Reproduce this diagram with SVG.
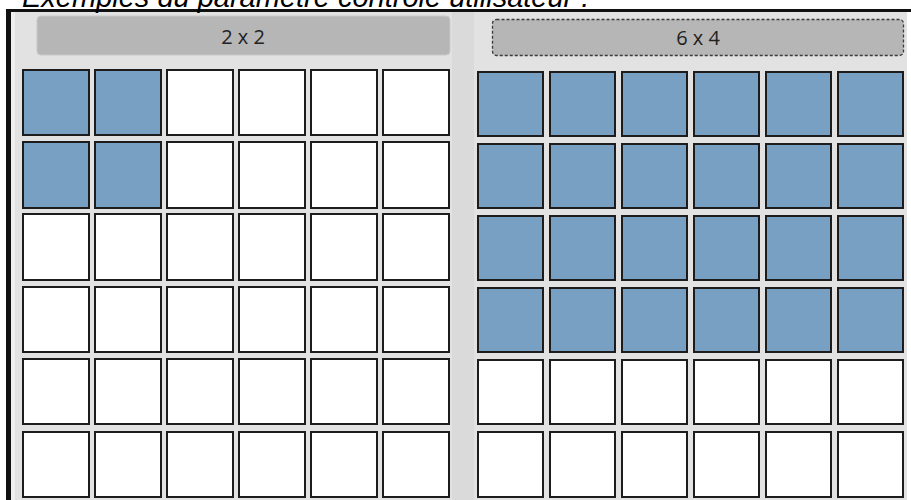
<svg xmlns="http://www.w3.org/2000/svg" width="911" height="500" viewBox="0 0 911 500">
<style>
.cell{stroke:#1c1c1c;stroke-width:2}
.on{fill:#78a0c3}
.off{fill:#ffffff}
.btn{fill:#b6b6b6}
.lbl{font-family:"Open Sans","DejaVu Sans",sans-serif;font-size:20px;fill:#222;text-anchor:middle}
.title{font-family:"Liberation Sans",Arial,sans-serif;font-style:italic;font-size:29px;fill:#000}
</style>
<rect x="0" y="0" width="911" height="500" fill="#ffffff"/>
<g id="frame">
<rect x="6" y="10" width="901" height="490" fill="#e2e2e2"/>
<rect x="11" y="12" width="4" height="488" fill="#efefef"/>
<rect x="452" y="12" width="22" height="488" fill="#dadada"/>
<rect x="6" y="9" width="905" height="3" fill="#111"/>
<rect x="6" y="9" width="5" height="491" fill="#111"/>
</g>
<g id="title"><text class="title" x="22" y="7">Exemples du paramètre contrôle utilisateur :</text></g>
<g id="button-2x2">
<rect class="btn" x="37" y="16" width="413" height="39" rx="4" stroke="#c8c8c8" stroke-width="1"/>
<text class="lbl" x="243" y="44">2 x 2</text>
</g>
<g id="button-6x4">
<rect class="btn" x="492.5" y="19.5" width="411" height="36" rx="4" stroke="#3a3a3a" stroke-width="1.3" stroke-dasharray="3 2"/>
<text class="lbl" x="698" y="45">6 x 4</text>
</g>
<g id="grid-left">
<g id="L-r1">
<rect class="cell on" x="23" y="70" width="66" height="65"/><rect class="cell on" x="95" y="70" width="66" height="65"/><rect class="cell off" x="167" y="70" width="66" height="65"/><rect class="cell off" x="239" y="70" width="66" height="65"/><rect class="cell off" x="311" y="70" width="66" height="65"/><rect class="cell off" x="383" y="70" width="66" height="65"/>
</g>
<g id="L-r2">
<rect class="cell on" x="23" y="142" width="66" height="66"/><rect class="cell on" x="95" y="142" width="66" height="66"/><rect class="cell off" x="167" y="142" width="66" height="66"/><rect class="cell off" x="239" y="142" width="66" height="66"/><rect class="cell off" x="311" y="142" width="66" height="66"/><rect class="cell off" x="383" y="142" width="66" height="66"/>
</g>
<g id="L-r3">
<rect class="cell off" x="23" y="214" width="66" height="66"/><rect class="cell off" x="95" y="214" width="66" height="66"/><rect class="cell off" x="167" y="214" width="66" height="66"/><rect class="cell off" x="239" y="214" width="66" height="66"/><rect class="cell off" x="311" y="214" width="66" height="66"/><rect class="cell off" x="383" y="214" width="66" height="66"/>
</g>
<g id="L-r4">
<rect class="cell off" x="23" y="287" width="66" height="65"/><rect class="cell off" x="95" y="287" width="66" height="65"/><rect class="cell off" x="167" y="287" width="66" height="65"/><rect class="cell off" x="239" y="287" width="66" height="65"/><rect class="cell off" x="311" y="287" width="66" height="65"/><rect class="cell off" x="383" y="287" width="66" height="65"/>
</g>
<g id="L-r5">
<rect class="cell off" x="23" y="359" width="66" height="65"/><rect class="cell off" x="95" y="359" width="66" height="65"/><rect class="cell off" x="167" y="359" width="66" height="65"/><rect class="cell off" x="239" y="359" width="66" height="65"/><rect class="cell off" x="311" y="359" width="66" height="65"/><rect class="cell off" x="383" y="359" width="66" height="65"/>
</g>
<g id="L-r6">
<rect class="cell off" x="23" y="432" width="66" height="65"/><rect class="cell off" x="95" y="432" width="66" height="65"/><rect class="cell off" x="167" y="432" width="66" height="65"/><rect class="cell off" x="239" y="432" width="66" height="65"/><rect class="cell off" x="311" y="432" width="66" height="65"/><rect class="cell off" x="383" y="432" width="66" height="65"/>
</g>
</g>
<g id="grid-right">
<g id="R-r1">
<rect class="cell on" x="478" y="72" width="65" height="64"/><rect class="cell on" x="550" y="72" width="65" height="64"/><rect class="cell on" x="622" y="72" width="65" height="64"/><rect class="cell on" x="694" y="72" width="65" height="64"/><rect class="cell on" x="766" y="72" width="65" height="64"/><rect class="cell on" x="838" y="72" width="65" height="64"/>
</g>
<g id="R-r2">
<rect class="cell on" x="478" y="144" width="65" height="64"/><rect class="cell on" x="550" y="144" width="65" height="64"/><rect class="cell on" x="622" y="144" width="65" height="64"/><rect class="cell on" x="694" y="144" width="65" height="64"/><rect class="cell on" x="766" y="144" width="65" height="64"/><rect class="cell on" x="838" y="144" width="65" height="64"/>
</g>
<g id="R-r3">
<rect class="cell on" x="478" y="216" width="65" height="64"/><rect class="cell on" x="550" y="216" width="65" height="64"/><rect class="cell on" x="622" y="216" width="65" height="64"/><rect class="cell on" x="694" y="216" width="65" height="64"/><rect class="cell on" x="766" y="216" width="65" height="64"/><rect class="cell on" x="838" y="216" width="65" height="64"/>
</g>
<g id="R-r4">
<rect class="cell on" x="478" y="288" width="65" height="64"/><rect class="cell on" x="550" y="288" width="65" height="64"/><rect class="cell on" x="622" y="288" width="65" height="64"/><rect class="cell on" x="694" y="288" width="65" height="64"/><rect class="cell on" x="766" y="288" width="65" height="64"/><rect class="cell on" x="838" y="288" width="65" height="64"/>
</g>
<g id="R-r5">
<rect class="cell off" x="478" y="360" width="65" height="64"/><rect class="cell off" x="550" y="360" width="65" height="64"/><rect class="cell off" x="622" y="360" width="65" height="64"/><rect class="cell off" x="694" y="360" width="65" height="64"/><rect class="cell off" x="766" y="360" width="65" height="64"/><rect class="cell off" x="838" y="360" width="65" height="64"/>
</g>
<g id="R-r6">
<rect class="cell off" x="478" y="432" width="65" height="65"/><rect class="cell off" x="550" y="432" width="65" height="65"/><rect class="cell off" x="622" y="432" width="65" height="65"/><rect class="cell off" x="694" y="432" width="65" height="65"/><rect class="cell off" x="766" y="432" width="65" height="65"/><rect class="cell off" x="838" y="432" width="65" height="65"/>
</g>
</g>
</svg>
